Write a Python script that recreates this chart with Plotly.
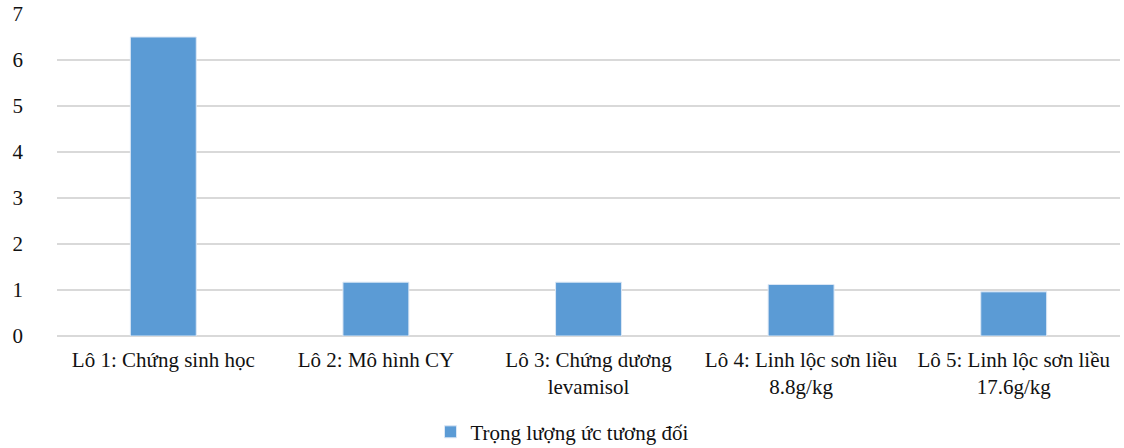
import plotly.graph_objects as go

categories = [
    "Lô 1: Chứng sinh học",
    "Lô 2: Mô hình CY",
    "Lô 3: Chứng dương<br>levamisol",
    "Lô 4: Linh lộc sơn liều<br>8.8g/kg",
    "Lô 5: Linh lộc sơn liều<br>17.6g/kg",
]
values = [6.5, 1.17, 1.17, 1.12, 0.96]
series_name = "Trọng lượng ức tương đối"
y_ticks = [0, 1, 2, 3, 4, 5, 6, 7]

FONT = "'Liberation Serif', 'DejaVu Serif', serif"

fig = go.Figure(
    go.Bar(
        x=categories,
        y=values,
        name=series_name,
        marker=dict(color="#5b9bd5", line=dict(color="#dbe7f5", width=1)),
        width=0.31,
        showlegend=True,
    )
)

fig.update_layout(
    width=1124,
    height=448,
    margin=dict(l=57, r=4, t=14, b=112, autoexpand=False),
    paper_bgcolor="white",
    plot_bgcolor="white",
    font=dict(family=FONT, size=21, color="#111111"),
    bargap=0.69,
    legend=dict(
        orientation="h",
        xref="container",
        x=0.5,
        xanchor="center",
        y=-0.235,
        yanchor="top",
        itemwidth=30,
        font=dict(family=FONT, size=21, color="#111111"),
    ),
)

fig.update_xaxes(
    showline=False,
    showgrid=False,
    ticks="",
    automargin=False,
    ticklabelstandoff=9,
    tickfont=dict(family=FONT, size=21),
)

fig.update_yaxes(
    range=[0, 7],
    tickvals=y_ticks,
    showgrid=True,
    gridcolor="#d9d9d9",
    gridwidth=1.5,
    zeroline=True,
    zerolinecolor="#d9d9d9",
    zerolinewidth=1.5,
    showline=False,
    ticks="",
    automargin=False,
    ticklabelstandoff=33,
    tickfont=dict(family=FONT, size=21),
)

fig.write_html("out.html")
